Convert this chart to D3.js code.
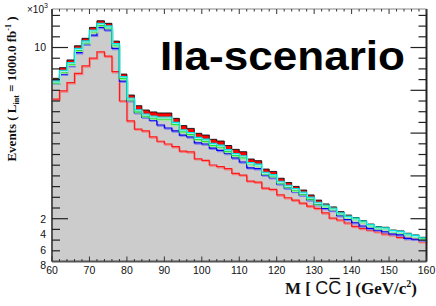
<!DOCTYPE html>
<html><head><meta charset="utf-8">
<script src="https://cdn.jsdelivr.net/npm/d3@7"></script>
<style>body{margin:0;background:#fff} svg{display:block}</style>
</head><body>
<svg id="c" width="436" height="306"></svg>
<script>
// ---- data (values in units of 10^3 events) ----
const binStarts = [60,62,64,66,68,70,72,74,76,78,80,82,84,86,88,90,92,94,96,98,
  100,102,104,106,108,110,112,114,116,118,120,122,124,126,128,130,132,134,136,138,
  140,142,144,146,148,150,152,154,156,158];
const binEnd = 160;
const totalBlack = [8.56,9.06,9.42,10.08,10.43,10.94,11.25,11.13,10.30,8.76,
  7.78,7.28,7.08,6.99,6.94,6.94,6.69,6.35,6.22,5.99,
  5.91,5.71,5.63,5.42,5.24,5.13,4.79,4.71,4.32,4.21,
  3.89,3.69,3.51,3.34,3.11,2.87,2.69,2.55,2.33,2.17,
  2.05,1.91,1.75,1.63,1.60,1.47,1.43,1.32,1.24,1.13];
const seriesCyan = [8.44,8.94,9.30,9.96,10.31,10.82,11.13,11.01,10.18,8.64,
  7.64,7.09,6.89,6.80,6.75,6.75,6.50,6.16,6.03,5.80,
  5.72,5.52,5.44,5.23,5.05,4.94,4.63,4.55,4.17,4.06,
  3.75,3.56,3.41,3.24,3.01,2.77,2.64,2.50,2.28,2.12,
  2.03,1.89,1.73,1.61,1.58,1.45,1.41,1.30,1.22,1.11];
const seriesGreen = [8.36,8.86,9.22,9.88,10.23,10.74,11.05,10.93,10.10,8.56,
  7.56,7.00,6.80,6.71,6.66,6.66,6.41,6.07,5.94,5.71,
  5.63,5.43,5.35,5.14,4.96,4.85,4.57,4.49,4.11,4.00,
  3.68,3.49,3.33,3.16,2.93,2.69,2.59,2.45,2.23,2.07,
  1.99,1.85,1.69,1.57,1.54,1.41,1.37,1.26,1.18,1.07];
const seriesBlue = [8.33,8.75,9.15,9.76,10.16,10.58,10.94,10.82,9.96,8.43,
  7.51,6.95,6.74,6.60,6.38,6.24,6.10,5.91,5.82,5.54,
  5.49,5.30,5.19,5.05,4.84,4.65,4.38,4.34,4.04,3.92,
  3.62,3.43,3.27,3.10,2.88,2.65,2.48,2.38,2.14,1.97,
  1.81,1.66,1.55,1.47,1.39,1.29,1.24,1.08,1.04,1.00];
const seriesRed = [7.59,7.97,8.36,8.79,9.14,9.50,9.80,9.60,8.87,7.50,
  6.57,6.19,6.10,5.82,5.62,5.49,5.37,5.16,5.12,4.80,
  4.73,4.51,4.43,4.34,4.12,4.04,3.76,3.71,3.43,3.37,
  3.11,2.98,2.87,2.73,2.59,2.48,2.27,2.03,1.94,1.80,
  1.64,1.55,1.47,1.39,1.29,1.24,1.13,1.08,1.04,0.93];
const xTickValues = [60,70,80,90,100,110,120,130,140,150,160];
const yLabelValues = [10,2,4,6,8];

// ---- layout ----
const svg = d3.select('#c');
const x = d3.scaleLinear().domain([60,160]).range([52,426.5]);
const y = d3.scaleLinear().domain([0,11.8]).range([261.5,9]);

function pts(vals){
  const p = binStarts.map((b,i)=>({x:b,v:vals[i]}));
  p.push({x:binEnd,v:vals[vals.length-1]});
  return p;
}
const lineGen = d3.line().curve(d3.curveStepAfter).x(d=>x(d.x)).y(d=>y(d.v));

// gray filled total
svg.append('path')
  .attr('d', d3.area().curve(d3.curveStepAfter).x(d=>x(d.x)).y0(y(0)).y1(d=>y(d.v))(pts(totalBlack)))
  .attr('fill','#cccccc');

// red band between total and cyan
const band = binStarts.map((b,i)=>({x:b,top:totalBlack[i],bot:seriesCyan[i]}));
band.push({x:binEnd,top:totalBlack[49],bot:seriesCyan[49]});
svg.append('path')
  .attr('d', d3.area().curve(d3.curveStepAfter).x(d=>x(d.x)).y0(d=>y(d.bot)).y1(d=>y(d.top))(band))
  .attr('fill','#ff0000');

function drawLine(vals,color,shadow,w){
  if (shadow) svg.append('path').attr('d',lineGen(pts(vals)))
    .attr('fill','none').attr('stroke',shadow).attr('stroke-width',w)
    .attr('transform','translate(0.8,1.2)');
  svg.append('path').attr('d',lineGen(pts(vals)))
    .attr('fill','none').attr('stroke',color).attr('stroke-width',w);
}
drawLine(totalBlack,'#111',null,0.9);
drawLine(seriesRed,'#ff1a1a','#f28080',1.2);
drawLine(seriesBlue,'#0000ee','#8080ee',1.2);
drawLine(seriesGreen,'#00e000','#90f090',1.2);
drawLine(seriesCyan,'#00e0e0','#90f0f0',1.1);

// ---- frame & ticks ----
const g = svg.append('g');
const X0 = x(60), X1 = x(160), Y0 = y(0), Y1 = y(11.8);
g.append('line').attr('x1',X0).attr('x2',X0).attr('y1',Y1).attr('y2',Y0).attr('stroke','#555').attr('stroke-width',2);
g.append('line').attr('x1',X0).attr('x2',X1).attr('y1',Y0).attr('y2',Y0).attr('stroke','#555').attr('stroke-width',2);
g.append('line').attr('x1',X1).attr('x2',X1).attr('y1',Y1).attr('y2',Y0).attr('stroke','#222').attr('stroke-width',2);
g.append('line').attr('x1',X0).attr('x2',X1).attr('y1',Y1).attr('y2',Y1).attr('stroke','#888').attr('stroke-width',1);

// x ticks (bottom up, top down)
const xMinor = d3.range(60,160.01,2);
xMinor.forEach(v=>{
  const major = v%10===0;
  const len = major?5:2.5;
  g.append('line').attr('x1',x(v)).attr('x2',x(v)).attr('y1',Y0).attr('y2',Y0-len).attr('stroke','#333').attr('stroke-width',1);
  g.append('line').attr('x1',x(v)).attr('x2',x(v)).attr('y1',Y1).attr('y2',Y1+len).attr('stroke','#333').attr('stroke-width',1);
});
// y ticks every 0.5
const yMinor = d3.range(0.5,11.8,0.5);
yMinor.forEach(v=>{
  const leftLong = (v===10||v===2);
  const rightLong = (v%2===0);
  g.append('line').attr('x1',X0).attr('x2',X0+(leftLong?16:8)).attr('y1',y(v)).attr('y2',y(v)).attr('stroke','#222').attr('stroke-width',1.2);
  g.append('line').attr('x1',X1).attr('x2',X1-(rightLong?16:8)).attr('y1',y(v)).attr('y2',y(v)).attr('stroke','#222').attr('stroke-width',1.2);
});

// x tick labels
xTickValues.forEach(v=>{
  svg.append('text').attr('x',x(v)).attr('y',Y0+12.5).attr('text-anchor','middle')
    .attr('font-family','Liberation Sans, Arial, sans-serif').attr('font-size',10.5).attr('fill','#111').text(v);
});
// y tick labels (first two at their ticks; the rest stacked under "2")
yLabelValues.forEach((v,i)=>{
  const ypos = i<2 ? y(v) : y(yLabelValues[1]) + 15.6*(i-1);
  svg.append('text').attr('x',46).attr('y',ypos+3.8).attr('text-anchor','end')
    .attr('font-family','Liberation Sans, Arial, sans-serif').attr('font-size',10.5).attr('fill','#111').text(v);
});
// exponent
const ex = svg.append('text').attr('x',27).attr('y',13).attr('font-family','Liberation Sans, Arial, sans-serif').attr('font-size',10).attr('fill','#111');
ex.append('tspan').text('\u00d710');
ex.append('tspan').attr('font-size',7).attr('dy',-5).text('3');

// y title
const yt = svg.append('text').attr('transform','translate(16,89) rotate(-90)').attr('text-anchor','middle')
  .attr('font-family','Liberation Serif, Times New Roman, serif').attr('font-weight','bold').attr('font-size',13).attr('fill','#111');
yt.append('tspan').text('Events ( L');
yt.append('tspan').attr('font-size',8).attr('dy',2.5).text('int');
yt.append('tspan').attr('dy',-2.5).text(' = 1000.0 fb');
yt.append('tspan').attr('font-size',8).attr('dy',-5).text('-1');
yt.append('tspan').attr('dy',5).text(' )');

// x title
const xt = svg.append('text').attr('x',417).attr('y',294).attr('text-anchor','end')
  .attr('font-family','Liberation Serif, Times New Roman, serif').attr('font-weight','bold').attr('font-size',17).attr('fill','#111');
xt.append('tspan').text('M [ ');
xt.append('tspan').attr('font-family','Liberation Sans, Arial, sans-serif').attr('font-weight','normal').attr('font-size',18).text('C');
xt.append('tspan').attr('font-family','Liberation Sans, Arial, sans-serif').attr('font-weight','normal').attr('font-size',18).text('C');
xt.append('tspan').text(' ] (GeV/c');
xt.append('tspan').attr('font-size',10).attr('dy',-7).text('2');
xt.append('tspan').attr('dy',7).text(')');
// overbar on second C (character index 5 of the whole title)
const xtn = xt.node();
const s = xtn.getStartPositionOfChar(5), e = xtn.getEndPositionOfChar(5);
svg.append('line').attr('x1',s.x+1.5).attr('x2',e.x-1.5).attr('y1',278.5).attr('y2',278.5).attr('stroke','#111').attr('stroke-width',1.3);

// scenario label
svg.append('text').attr('x',160).attr('y',70).attr('font-family','Liberation Sans, Arial, sans-serif')
  .attr('font-weight','bold').attr('font-size',40).attr('textLength',245).attr('lengthAdjust','spacingAndGlyphs')
  .attr('fill','#000').text('IIa-scenario');
</script>
</body></html>
